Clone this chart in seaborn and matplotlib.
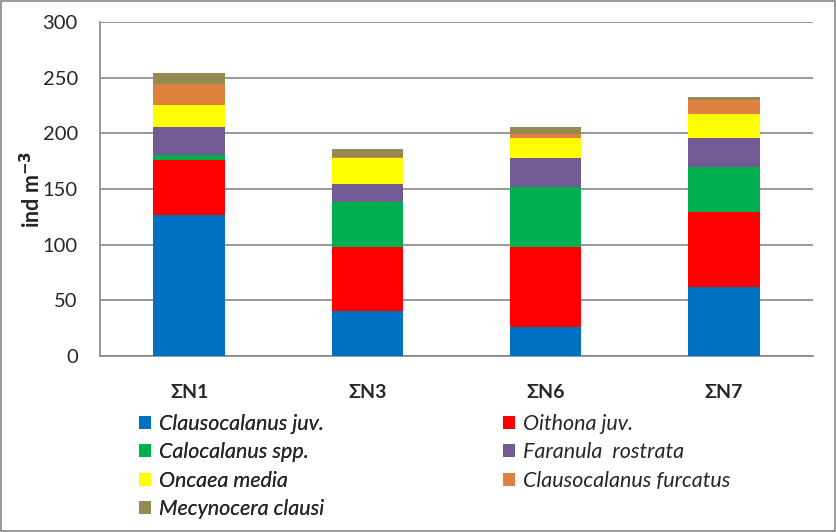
import matplotlib
matplotlib.use("Agg")
import matplotlib.pyplot as plt
import seaborn as sns
import pandas as pd
import numpy as np
from matplotlib.patches import Patch

stations = ["ΣN1", "ΣN3", "ΣN6", "ΣN7"]
species = ["Clausocalanus juv.", "Oithona juv.", "Calocalanus spp.", "Faranula  rostrata",
           "Oncaea media", "Clausocalanus furcatus", "Mecynocera clausi"]
clausocalanus_juv = [127, 40, 26, 62]
oithona_juv = [49, 58, 71.5, 67]
calocalanus_spp = [4.5, 40, 54.5, 41]
faranula_rostrata = [25.5, 16.5, 25.5, 26]
oncaea_media = [19, 23.5, 18.5, 21.5]
clausocalanus_furcatus = [19.5, 0.5, 3, 12.5]
mecynocera_clausi = [9.5, 7, 7, 2.5]
yticks = [0, 50, 100, 150, 200, 250, 300]

series = [clausocalanus_juv, oithona_juv, calocalanus_spp, faranula_rostrata,
          oncaea_media, clausocalanus_furcatus, mecynocera_clausi]
colors = ["#0070C0", "#FF0000", "#00B050", "#725A93", "#FFFF00", "#E0823F", "#948A54"]

rows = []
for sp, vals in zip(species, series):
    for st, v in zip(stations, vals):
        rows.append({"station": st, "species": sp, "value": v})
df = pd.DataFrame(rows)
df["cum"] = df.groupby("station")["value"].cumsum()

sns.set_style("white")
plt.rcParams["font.family"] = ["Lato", "DejaVu Sans"]

fig = plt.figure(figsize=(8.36, 5.32), dpi=100)
ax = fig.add_axes([100/836, 1-356/532, (813-100)/836, (356-22)/532])

for sp, col in reversed(list(zip(species, colors))):
    sub = df[df["species"] == sp]
    sns.barplot(data=sub, x="station", y="cum", color=col, width=0.4,
                order=stations, ax=ax, saturation=1, edgecolor="none", linewidth=0, zorder=3)

ax.set_xlim(-0.5, 3.5)
ax.set_ylim(0, 300)
ax.set_yticks(yticks)
ax.set_yticklabels([str(t) for t in yticks], fontsize=14.5)
ax.yaxis.grid(True, color="#868686", linewidth=1.2, zorder=0)
ax.set_axisbelow(True)
for s in ["top", "right"]:
    ax.spines[s].set_visible(False)
for s in ["left", "bottom"]:
    ax.spines[s].set_color("#868686")
    ax.spines[s].set_linewidth(1.2)
ax.tick_params(axis="y", length=7, color="#868686", width=1.2, direction="out", pad=9)
ax.set_xticks(range(4))
ax.set_xticklabels(stations, fontsize=14, fontweight="bold")
ax.set_xticks(np.arange(-0.5, 4, 1), minor=True)
ax.tick_params(axis="x", which="major", length=0, pad=20)
ax.tick_params(axis="x", which="minor", length=7, color="#868686", width=1.2, direction="out")
ax.set_xlabel("")
ax.set_ylabel("ind m$^{\\mathbf{-3}}$", fontsize=15.5, fontweight="bold", labelpad=-1)

legend_kw = dict(loc="upper left", frameon=False, prop={"style": "italic", "size": 15.5},
                 handlelength=0.55, handleheight=0.55, handletextpad=0.4,
                 labelspacing=0.39, borderaxespad=0, borderpad=0)
col1 = [0, 2, 4, 6]
col2 = [1, 3, 5]
h1 = [Patch(facecolor=colors[i], edgecolor="none", label=species[i]) for i in col1]
h2 = [Patch(facecolor=colors[i], edgecolor="none", label=species[i]) for i in col2]
leg1 = fig.legend(handles=h1, bbox_to_anchor=(139/836, 1-414/532), **legend_kw)
fig.add_artist(leg1)
fig.legend(handles=h2, bbox_to_anchor=(503/836, 1-414/532), **legend_kw)

fig.patches.append(plt.Rectangle((0.001, 0.001), 0.998, 0.997, transform=fig.transFigure,
                                 fill=False, edgecolor="#868686", linewidth=1.2))
fig.savefig("out.png", dpi=100)
